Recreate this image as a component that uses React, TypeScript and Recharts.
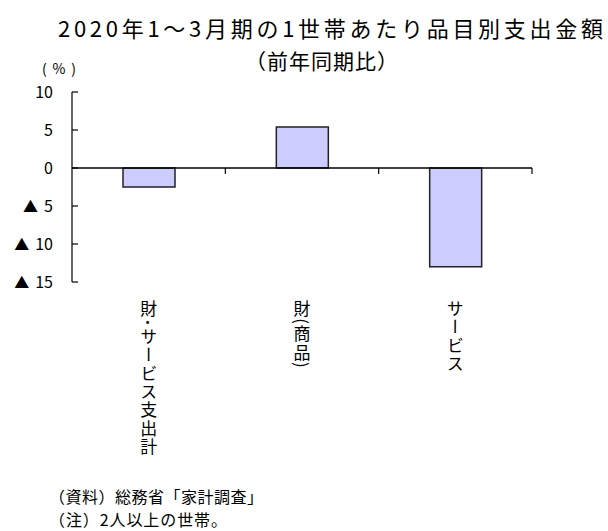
import { BarChart, Bar, XAxis, YAxis, ReferenceLine } from 'recharts';

const categories = ['財･サービス支出計', '財(商品)', 'サービス'];
const changePct = [-2.5, 5.4, -13.0];
const yTicks = [10, 5, 0, -5, -10, -15];

const titleLines = ['2020年1～3月期の1世帯あたり品目別支出金額', '（前年同期比）'];
const notes = ['（資料）総務省「家計調査」', '（注）2人以上の世帯。'];

const data = categories.map((name, i) => ({ name, value: changePct[i] }));

const FONT = '"Noto Sans CJK JP", "Noto Sans", sans-serif';

function YTick({ x, y, payload }: any) {
  const v = payload.value as number;
  return (
    <g>
      <line x1={x} y1={y} x2={x + 6} y2={y} stroke="#000" strokeWidth={1.2} />
      <text x={x - 19} y={y} dy={6} textAnchor="end" fontSize={16} fill="#000" fontFamily={FONT}>
        {v < 0 && <tspan fontSize={15}>▲</tspan>}
        <tspan dx={v < 0 ? 6 : 0}>{Math.abs(v)}</tspan>
      </text>
    </g>
  );
}

function XTick({ x, y, payload }: any) {
  return (
    <text
      x={x}
      y={y + 18}
      textAnchor="start"
      fontSize={17}
      fill="#000"
      fontFamily={FONT}
      letterSpacing={1.3}
      style={{ writingMode: 'vertical-rl' }}
    >
      {payload.value}
    </text>
  );
}

function ZeroLine(props: any) {
  const { x1, y1, x2, y2 } = props;
  const n = categories.length;
  const step = (x2 - x1) / n;
  return (
    <g>
      <line x1={x1} y1={y1} x2={x2} y2={y2} stroke="#000" strokeWidth={1.5} />
      {categories.map((_, i) => (
        <line key={i} x1={x1 + step * (i + 1)} y1={y1} x2={x1 + step * (i + 1)} y2={y1 + 6} stroke="#000" strokeWidth={1.2} />
      ))}
    </g>
  );
}

export default function App() {
  return (
    <div style={{ position: 'absolute', left: 0, top: 0, width: 608, height: 531, background: '#fff' }}>
      <BarChart
        width={608}
        height={531}
        data={data}
        margin={{ top: 92, right: 76, bottom: 49, left: 0 }}
      >
        <YAxis
          type="number"
          domain={[-15, 10]}
          ticks={yTicks}
          width={72}
          tickSize={0}
          tickMargin={0}
          tickLine={false}
          axisLine={{ stroke: '#000', strokeWidth: 1.2 }}
          tick={<YTick />}
          interval={0}
        />
        <XAxis
          dataKey="name"
          height={200}
          axisLine={false}
          tickLine={false}
          tickSize={0}
          tickMargin={0}
          interval={0}
          tick={<XTick />}
        />
        <Bar dataKey="value" barSize={52} fill="#ccccff" stroke="#222" strokeWidth={1.5} isAnimationActive={false} />
        <ReferenceLine y={0} shape={<ZeroLine />} />
      </BarChart>
      <svg width={608} height={531} style={{ position: 'absolute', left: 0, top: 0, pointerEvents: 'none' }}>
        <text x={58} y={37} fontSize={22} fontFamily={FONT} fill="#000" textLength={545} lengthAdjust="spacing">
          {titleLines[0]}
        </text>
        <text
          x={322}
          y={69}
          fontSize={21}
          fontFamily={FONT}
          fill="#000"
          textAnchor="middle"
          letterSpacing={1}
          style={{ textSpacingTrim: 'space-all' } as any}
        >
          {titleLines[1]}
        </text>
        <text x={42} y={74} fontSize={14} fontFamily={FONT} fill="#000" textLength={34} lengthAdjust="spacing">(%)</text>
        <text x={49} y={503} fontSize={16} fontFamily={FONT} fill="#000" textLength={214} lengthAdjust="spacing">{notes[0]}</text>
        <text x={49} y={526} fontSize={16} fontFamily={FONT} fill="#000" textLength={178} lengthAdjust="spacing">{notes[1]}</text>
      </svg>
    </div>
  );
}
